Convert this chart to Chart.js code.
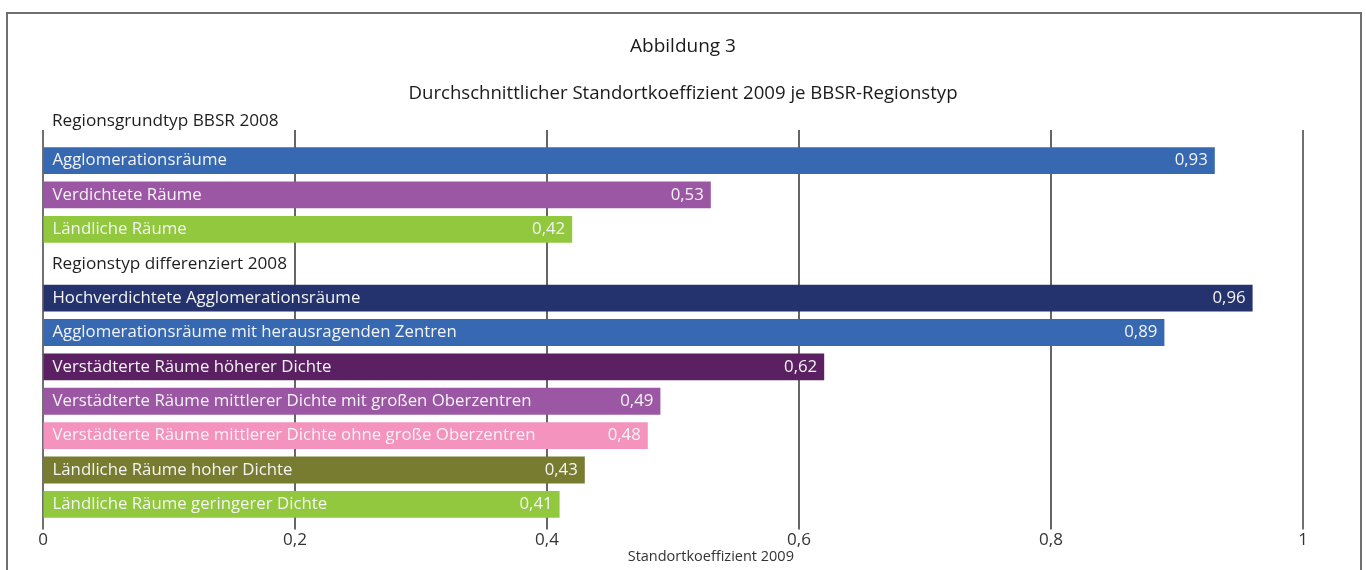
<!DOCTYPE html>
<html>
<head>
<meta charset="utf-8">
<script src="https://cdn.jsdelivr.net/npm/chart.js@4"></script>
<style>
  body { margin: 0; background: #fff; }
  #frame { position: absolute; left: 6px; top: 12px; width: 1356px; height: 600px; box-sizing: border-box; border: 2px solid #707070; }
  #wrap { position: absolute; left: 0; top: 0; width: 1366px; height: 570px; }
</style>
</head>
<body>
<div id="frame"></div>
<div id="wrap"><canvas id="plot"></canvas></div>
<script>
const categories = [
    'Regionsgrundtyp BBSR 2008',
    'Agglomerationsräume',
    'Verdichtete Räume',
    'Ländliche Räume',
    'Regionstyp differenziert 2008',
    'Hochverdichtete Agglomerationsräume',
    'Agglomerationsräume mit herausragenden Zentren',
    'Verstädterte Räume höherer Dichte',
    'Verstädterte Räume mittlerer Dichte mit großen Oberzentren',
    'Verstädterte Räume mittlerer Dichte ohne große Oberzentren',
    'Ländliche Räume hoher Dichte',
    'Ländliche Räume geringerer Dichte'
];
const isHeader = [true, false, false, false, true, false, false, false, false, false, false, false];
const values = [null, 0.93, 0.53, 0.42, null, 0.96, 0.89, 0.62, 0.49, 0.48, 0.43, 0.41];
const valueLabels = ['', '0,93', '0,53', '0,42', '', '0,96', '0,89', '0,62', '0,49', '0,48', '0,43', '0,41'];
const barColors = [
    null, '#3768b2', '#9b57a3', '#92c83e',
    null, '#24326d', '#3768b2', '#5b2062', '#9b57a3', '#f393be', '#787c30', '#92c83e'
];
const xTickLabels = ['0', '0,2', '0,4', '0,6', '0,8', '1'];

const titleText = 'Abbildung 3';
const subtitleText = 'Durchschnittlicher Standortkoeffizient 2009 je BBSR-Regionstyp';
const axisTitle = 'Standortkoeffizient 2009';

const FONT = "'Open Sans', 'Noto Sans', sans-serif";

const textPlugin = {
    id: 'textPlugin',
    beforeDatasetsDraw(chart) {
        const ctx = chart.ctx;
        const xs = chart.scales.x;
        const area = chart.chartArea;
        ctx.save();
        xs.ticks.forEach((t, i) => {
            const x = Math.round(xs.getPixelForValue(t.value));
            const edge = i === 0 || i === xs.ticks.length - 1;
            ctx.strokeStyle = edge ? '#707070' : '#333333';
            ctx.lineWidth = edge ? 2 : 1.5;
            ctx.beginPath();
            ctx.moveTo(x, area.top + 21);
            ctx.lineTo(x, area.bottom + 8);
            ctx.stroke();
        });
        ctx.restore();
    },
    afterDatasetsDraw(chart) {
        const ctx = chart.ctx;
        const xs = chart.scales.x;
        const ys = chart.scales.y;
        const meta = chart.getDatasetMeta(0);
        ctx.save();
        ctx.textBaseline = 'middle';
        categories.forEach((label, i) => {
            const y = ys.getPixelForValue(i);
            if (isHeader[i]) {
                ctx.font = '17.2px ' + FONT;
                ctx.fillStyle = '#1e1e1e';
                ctx.textAlign = 'left';
                ctx.fillText(label, xs.left + 9, y + (i === 0 ? -5 : 0));
                return;
            }
            const bar = meta.data[i];
            ctx.font = '16.8px ' + FONT;
            ctx.fillStyle = '#f4f4f4';
            ctx.textAlign = 'left';
            ctx.fillText(label, bar.base + 9, y);
            ctx.textAlign = 'right';
            ctx.fillText(valueLabels[i], bar.x - 7, y);
        });

        // titles
        const cx = chart.width / 2;
        ctx.fillStyle = '#1a1a1a';
        ctx.textAlign = 'center';
        ctx.font = '19px ' + FONT;
        ctx.fillText(titleText, cx, 47);
        ctx.font = '18.6px ' + FONT;
        ctx.fillText(subtitleText, cx, 94);

        ctx.fillStyle = '#333';
        ctx.font = '14.5px ' + FONT;
        ctx.fillText(axisTitle, xs.getPixelForValue(0.53), 557);
        ctx.restore();
    }
};

function drawPlot() {
    const ctx = document.getElementById('plot');

    new Chart(ctx, {
        type: 'bar',
        data: {
            labels: categories,
            datasets: [{
                data: values,
                backgroundColor: barColors,
                borderWidth: 0,
                categoryPercentage: 1,
                barPercentage: 0.78
            }]
        },
        options: {
            indexAxis: 'y',
            responsive: true,
            maintainAspectRatio: false,
            animation: false,
            layout: { padding: { left: 43, right: 63, top: 109, bottom: 20 } },
            scales: {
                x: {
                    type: 'linear',
                    min: 0,
                    max: 1,
                    border: { display: false },
                    grid: { color: 'transparent', drawTicks: true, tickLength: 8 },
                    ticks: {
                        stepSize: 0.2,
                        padding: 0,
                        color: '#333',
                        font: { family: FONT, size: 17 },
                        callback: (v, i) => xTickLabels[i]
                    }
                },
                y: { display: false, offset: true }
            },
            plugins: {
                legend: { display: false },
                tooltip: { enabled: false }
            }
        },
        plugins: [textPlugin]
    });

    console.log("Finished setting up graph")
}

drawPlot();
</script>
</body>
</html>
